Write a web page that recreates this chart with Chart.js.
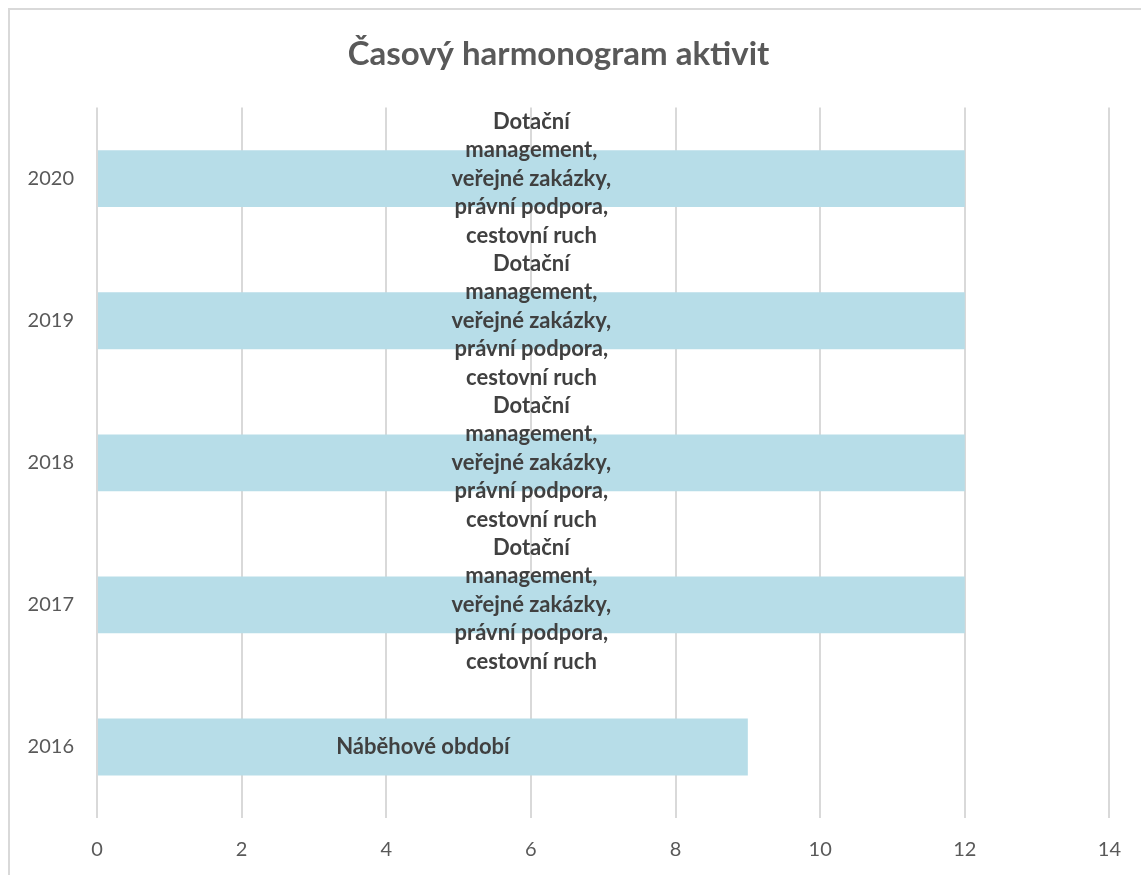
<!DOCTYPE html>
<html>
<head>
<meta charset="utf-8">
<script src="https://cdn.jsdelivr.net/npm/chart.js@4"></script>
<style>
  html, body { margin: 0; padding: 0; background: #ffffff; overflow: hidden; }
  #frame { position: absolute; left: 8px; top: 8px; width: 1200px; height: 1000px;
           border-left: 2px solid #d9d9d9; border-top: 2px solid #d9d9d9; box-sizing: border-box; }
  #wrap { position: absolute; left: 0; top: 0; width: 1141px; height: 875px; }
</style>
</head>
<body>
<div id="frame"></div>
<div id="wrap"><canvas id="c" width="1141" height="875"></canvas></div>
<script>
const categories = ['2016', '2017', '2018', '2019', '2020'];
const durations = [9, 12, 12, 12, 12];
const activityLabels = [
  ['Náběhové období'],
  ['Dotační', 'management,', 'veřejné zakázky,', 'právní podpora,', 'cestovní ruch'],
  ['Dotační', 'management,', 'veřejné zakázky,', 'právní podpora,', 'cestovní ruch'],
  ['Dotační', 'management,', 'veřejné zakázky,', 'právní podpora,', 'cestovní ruch'],
  ['Dotační', 'management,', 'veřejné zakázky,', 'právní podpora,', 'cestovní ruch']
];
const xTicks = [0, 2, 4, 6, 8, 10, 12, 14];

const FONT = 'Lato, "Open Sans", sans-serif';

const barLabels = {
  id: 'barLabels',
  afterDatasetsDraw(chart) {
    const ctx = chart.ctx;
    const meta = chart.getDatasetMeta(0);
    ctx.save();
    ctx.font = 'bold 22px ' + FONT;
    ctx.fillStyle = '#404040';
    ctx.textAlign = 'center';
    ctx.textBaseline = 'middle';
    const lh = 28.5;
    meta.data.forEach((bar, i) => {
      const lines = activityLabels[i];
      const cx = (bar.x + bar.base) / 2;
      const y0 = bar.y - (lines.length - 1) * lh / 2;
      lines.forEach((t, k) => ctx.fillText(t, cx, y0 + k * lh));
    });
    ctx.restore();
  }
};

new Chart(document.getElementById('c'), {
  type: 'bar',
  data: {
    labels: categories,
    datasets: [{
      data: durations,
      backgroundColor: '#b7dde8',
      borderWidth: 0,
      barPercentage: 0.4,
      categoryPercentage: 1.0
    }]
  },
  options: {
    indexAxis: 'y',
    responsive: false,
    animation: false,
    layout: { padding: { left: 0, right: 24, top: 0, bottom: 0 } },
    plugins: {
      legend: { display: false },
      tooltip: { enabled: false },
      title: {
        display: true,
        text: 'Časový harmonogram aktivit',
        color: '#595959',
        font: { family: FONT, size: 33, weight: 'bold' },
        padding: { top: 35, bottom: 33 }
      }
    },
    scales: {
      x: {
        min: 0, max: 14,
        afterBuildTicks(scale) { scale.ticks = xTicks.map(v => ({ value: v })); },
        grid: { color: '#d9d9d9', lineWidth: 2, drawTicks: false },
        border: { display: false },
        ticks: { color: '#595959', font: { family: FONT, size: 20 }, padding: 20 },
        afterFit(scale) { scale.height = 875 - 818; }
      },
      y: {
        reverse: true,
        grid: { display: false, drawTicks: false },
        border: { display: false },
        ticks: { color: '#595959', font: { family: FONT, size: 20 }, padding: 23 },
        afterFit(scale) { scale.width = 97; }
      }
    }
  },
  plugins: [barLabels]
});
</script>
</body>
</html>
